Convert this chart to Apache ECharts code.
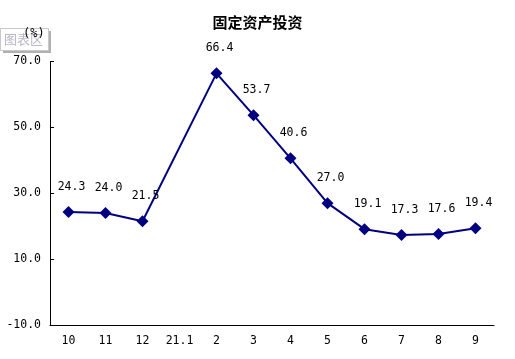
<!DOCTYPE html>
<html><head><meta charset="utf-8">
<script src="https://cdn.jsdelivr.net/npm/echarts@6/dist/echarts.min.js"></script>
<style>html,body{margin:0;padding:0;background:#fff}#c{width:515px;height:359px}</style>
</head><body><div id="c"></div>
<script>
const categories = ['10','11','12','21.1','2','3','4','5','6','7','8','9'];
const values = [24.3, 24.0, 21.5, null, 66.4, 53.7, 40.6, 27.0, 19.1, 17.3, 17.6, 19.4];
const yTicks = [-10, 10, 30, 50, 70];
const chart = echarts.init(document.getElementById('c'));
const font = '"DejaVu Sans Mono", monospace';
chart.setOption({
  animation: false,
  title: {text: '固定资产投资', left: 'center', top: 10,
    textStyle: {fontSize: 15, fontWeight: 'bold', color: '#000', fontFamily: '"Noto Sans CJK SC"'}},
  grid: {left: 50, right: 21, top: 61.5, bottom: 34, containLabel: false},
  graphic: [
    {type: 'rect', left: 3, top: 31, shape: {width: 48, height: 22}, style: {fill: '#b0b0b0'}},
    {type: 'rect', left: 0, top: 28, shape: {width: 48, height: 22}, style: {fill: '#fff', stroke: '#c8c8c8', lineWidth: 1}},
    {type: 'text', left: 4, top: 33, style: {text: '图表区', fill: '#b8b8c8', font: '13px "Noto Sans CJK SC"'}},
    {type: 'text', left: 23, top: 28, style: {text: '(%)', fill: '#000', font: '12px ' + font}}
  ],
  xAxis: {type: 'category', data: categories, boundaryGap: true,
    axisLine: {onZero: false, lineStyle: {color: '#000', width: 1}},
    axisTick: {inside: true, length: 5, lineStyle: {color: '#000'}},
    axisLabel: {color: '#000', fontSize: 11.5, fontFamily: font, margin: 10}},
  yAxis: {type: 'value', min: yTicks[0], max: yTicks[yTicks.length-1], interval: 20,
    axisLine: {show: true, lineStyle: {color: '#000', width: 1}},
    axisTick: {show: true, inside: true, length: 4, lineStyle: {color: '#000'}},
    splitLine: {show: false},
    axisLabel: {color: '#000', fontSize: 11.5, fontFamily: font, margin: 9, formatter: v => v.toFixed(1)}},
  series: [{type: 'line', data: values, connectNulls: true,
    symbol: 'diamond', symbolSize: 12,
    lineStyle: {color: '#000080', width: 2},
    itemStyle: {color: '#000080'},
    label: {show: true, position: 'top', distance: 13, offset: [3, 0], color: '#000', fontSize: 11.5, fontFamily: font,
      formatter: p => p.value.toFixed(1)}}]
});
</script></body></html>
